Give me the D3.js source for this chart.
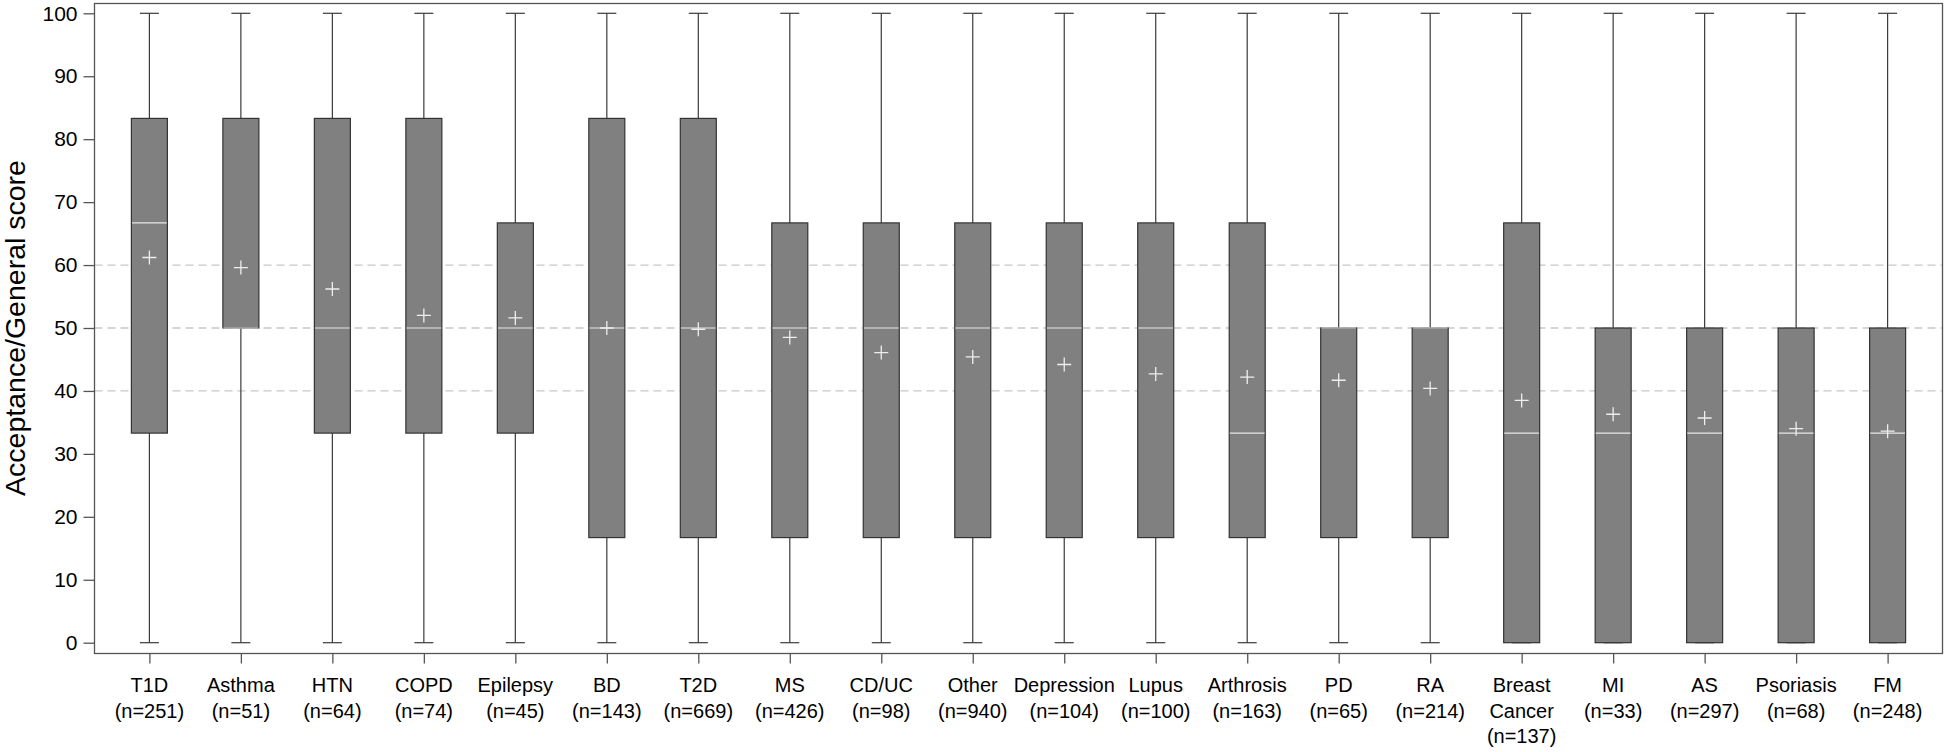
<!DOCTYPE html>
<html>
<head>
<meta charset="utf-8">
<script src="https://cdn.jsdelivr.net/npm/d3@7"></script>
<style>
  html, body { margin: 0; padding: 0; background: #ffffff; }
  svg text { font-family: "Liberation Sans", Arial, Helvetica, sans-serif; fill: #000; }
</style>
</head>
<body>
<svg id="chart" width="1946" height="752"></svg>
<script>
// ---- data ----
const categories = ["T1D","Asthma","HTN","COPD","Epilepsy","BD","T2D","MS","CD/UC","Other","Depression","Lupus","Arthrosis","PD","RA","Breast Cancer","MI","AS","Psoriasis","FM"];
const nValues   = [251,51,64,74,45,143,669,426,98,940,104,100,163,65,214,137,33,297,68,248];
const minValues = [0,0,0,0,0,0,0,0,0,0,0,0,0,0,0,0,0,0,0,0];
const q1Values  = [33.3,50,33.3,33.3,33.3,16.7,16.7,16.7,16.7,16.7,16.7,16.7,16.7,16.7,16.7,0,0,0,0,0];
const medianValues = [66.7,50,50,50,50,50,50,50,50,50,50,50,33.3,50,50,33.3,33.3,33.3,33.3,33.3];
const q3Values  = [83.3,83.3,83.3,83.3,66.7,83.3,83.3,66.7,66.7,66.7,66.7,66.7,66.7,50,50,66.7,50,50,50,50];
const maxValues = [100,100,100,100,100,100,100,100,100,100,100,100,100,100,100,100,100,100,100,100];
const meanValues = [61.2,59.6,56.2,52.0,51.6,50.0,49.8,48.5,46.1,45.4,44.2,42.7,42.2,41.7,40.4,38.5,36.3,35.7,34.0,33.6];
const yTicks = [0,10,20,30,40,50,60,70,80,90,100];
const refLines = [40,50,60];
const yTitle = "Acceptance/General score";

// ---- layout ----
const frame = { left: 94.5, right: 1942.5, top: 3.5, bottom: 653.5 };
const svg = d3.select("#chart");

const x = d3.scalePoint().domain(categories).range([frame.left, frame.right]).padding(0.6);
const y = d3.scaleLinear().domain([0, 100]).range([642.7, 13.3]);

const boxW = 36, capW = 19;

const rows = categories.map((c, i) => ({
  cat: c, n: nValues[i], min: minValues[i], q1: q1Values[i], med: medianValues[i],
  q3: q3Values[i], max: maxValues[i], mean: meanValues[i]
}));

// reference lines
svg.append("g").selectAll("line").data(refLines).join("line")
  .attr("x1", frame.left).attr("x2", frame.right)
  .attr("y1", d => y(d)).attr("y2", d => y(d))
  .attr("stroke", "#c8c8c8").attr("stroke-width", 1.3)
  .attr("stroke-dasharray", "8,5");

const g = svg.append("g").selectAll("g").data(rows).join("g");

// whiskers
g.append("line")
  .attr("x1", d => x(d.cat)).attr("x2", d => x(d.cat))
  .attr("y1", d => y(d.max)).attr("y2", d => y(d.q3))
  .attr("stroke", "#3a3a3a").attr("stroke-width", 1.2);
g.append("line")
  .attr("x1", d => x(d.cat)).attr("x2", d => x(d.cat))
  .attr("y1", d => y(d.q1)).attr("y2", d => y(d.min))
  .attr("stroke", "#3a3a3a").attr("stroke-width", 1.2);
// caps
g.append("line")
  .attr("x1", d => x(d.cat) - capW / 2).attr("x2", d => x(d.cat) + capW / 2)
  .attr("y1", d => y(d.max)).attr("y2", d => y(d.max))
  .attr("stroke", "#3a3a3a").attr("stroke-width", 1.2);
g.append("line")
  .attr("x1", d => x(d.cat) - capW / 2).attr("x2", d => x(d.cat) + capW / 2)
  .attr("y1", d => y(d.min)).attr("y2", d => y(d.min))
  .attr("stroke", "#3a3a3a").attr("stroke-width", 1.2);
// boxes
g.append("rect")
  .attr("x", d => x(d.cat) - boxW / 2).attr("width", boxW)
  .attr("y", d => y(d.q3)).attr("height", d => y(d.q1) - y(d.q3))
  .attr("fill", "#808080").attr("stroke", "#333333").attr("stroke-width", 1.2);
// medians
g.append("line")
  .attr("x1", d => x(d.cat) - boxW / 2 + 0.6).attr("x2", d => x(d.cat) + boxW / 2 - 0.6)
  .attr("y1", d => y(d.med)).attr("y2", d => y(d.med))
  .attr("stroke", "#e6e6e6").attr("stroke-width", 1.2);
// means (+)
const mk = 7;
g.append("path")
  .attr("d", d => {
    const cx = x(d.cat), cy = y(d.mean);
    return `M${cx - mk},${cy}H${cx + mk}M${cx},${cy - mk}V${cy + mk}`;
  })
  .attr("stroke", "#eeeeee").attr("stroke-width", 1.3).attr("fill", "none");

// frame
svg.append("rect")
  .attr("x", frame.left).attr("y", frame.top)
  .attr("width", frame.right - frame.left).attr("height", frame.bottom - frame.top)
  .attr("fill", "none").attr("stroke", "#555555").attr("stroke-width", 1.3);

// y axis
const yAxis = svg.append("g").attr("transform", `translate(${frame.left},0)`)
  .call(d3.axisLeft(y).tickValues(yTicks).tickSize(11).tickPadding(6));
yAxis.select(".domain").remove();
yAxis.selectAll(".tick line").attr("stroke", "#555555").attr("stroke-width", 1.3);
yAxis.selectAll(".tick text").attr("font-size", 21).attr("fill", "#000")
  .style("font-family", '"Liberation Sans", Arial, sans-serif');

// x axis
const xAxis = svg.append("g").attr("transform", `translate(0,${frame.bottom})`)
  .call(d3.axisBottom(x).tickSize(10).tickFormat(""));
xAxis.select(".domain").remove();
xAxis.selectAll(".tick line").attr("stroke", "#555555").attr("stroke-width", 1.3);
xAxis.selectAll(".tick text").remove();

const labels = svg.append("g").selectAll("text").data(rows).join("text")
  .attr("text-anchor", "middle").attr("font-size", 20)
  .attr("x", d => x(d.cat)).attr("y", 692);
labels.each(function(d) {
  const lines = d.cat.split(" ").concat([`(n=${d.n})`]);
  d3.select(this).selectAll("tspan").data(lines).join("tspan")
    .attr("x", x(d.cat)).attr("dy", (l, i) => i === 0 ? 0 : 25.5)
    .text(l => l);
});

// y title
svg.append("text")
  .attr("transform", `translate(25,${(y(0) + y(100)) / 2}) rotate(-90)`)
  .attr("text-anchor", "middle").attr("font-size", 28.5)
  .text(yTitle);
</script>
</body>
</html>
